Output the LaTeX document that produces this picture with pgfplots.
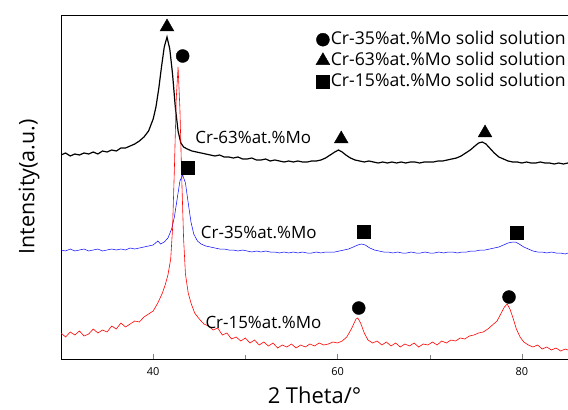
\documentclass[border=0pt]{standalone}
\usepackage{fontspec}
\setmainfont{Open Sans}
\usepackage{pgfplots}
\pgfplotsset{compat=1.18}
\usetikzlibrary{calc}

\begin{document}
\begin{tikzpicture}
\begin{axis}[
    scale only axis,
    width=507bp, height=344bp,
    xmin=30, xmax=85, ymin=0, ymax=344,
    axis x line*=box, axis y line*=left,
    axis line style={line width=0.8pt},
    xtick={40,60,80}, minor xtick={50,70},
    xtick pos=bottom, tick align=inside,
    major tick length=5bp, minor tick length=4bp,
    ytick=\empty,
    /pgf/number format/assume math mode=true,
    ticklabel style={font=\fontsize{11}{13}\selectfont},
    xticklabel style={yshift=-5bp},
    xlabel={2 Theta/°},
    ylabel={Intensity(a.u.)},
    xlabel style={font=\fontsize{22}{26}\selectfont, yshift=-4bp},
    ylabel style={font=\fontsize{21.5}{26}\selectfont, yshift=18bp},
    legend style={at={(rel axis cs:1,1)}, anchor=north east, draw=none, fill=none,
        font=\fontsize{17.7}{20}\selectfont, row sep=2bp, inner sep=0pt,
        nodes={inner sep=1bp, text height=13bp, text depth=4bp},
        xshift=-1bp, yshift=-15bp},
    legend cell align=left,
    legend image code/.code={\draw plot coordinates {(0.15cm,0cm)};},
]
% Cr-63%at.%Mo (black)
\addplot[black, line width=1.2pt, forget plot] coordinates {
(30,204) (30.5,206) (31,203) (31.5,205) (32,204) (32.5,206) (33,205) (33.5,207)
(34,205) (34.5,208) (35,207) (35.5,209) (36,208) (36.5,211) (37,211) (37.5,213)
(38,215) (38.5,218) (39,222) (39.5,228) (40,240) (40.3,252) (40.6,270) (40.9,292)
(41.2,312) (41.5,322) (41.8,310) (42.1,285) (42.4,252) (42.7,228) (43,216) (43.3,212)
(43.7,210) (44.2,208) (44.7,207) (45.2,206) (45.7,205) (46.2,204) (46.7,203) (47.2,204)
(47.7,202) (48.2,202) (48.7,201) (49.2,202) (49.7,200) (50.2,200) (50.7,201) (51.2,199)
(51.7,199) (52.2,200) (52.7,198) (53.2,199) (53.7,198) (54.2,197) (54.7,198) (55.2,197)
(55.7,198) (56.2,197) (56.7,197) (57.2,198) (57.7,198) (58.2,199) (58.7,201) (59.2,204)
(59.7,207) (60.1,209) (60.5,207) (60.9,204) (61.4,201) (61.9,199) (62.4,198) (62.9,197)
(63.4,198) (63.9,197) (64.4,196) (64.9,197) (65.4,196) (65.9,197) (66.4,196) (66.9,197)
(67.4,196) (67.9,197) (68.4,197) (68.9,196) (69.4,197) (69.9,197) (70.4,197) (70.9,198)
(71.4,198) (71.9,199) (72.4,200) (72.9,201) (73.4,203) (73.9,206) (74.4,209) (74.9,213)
(75.3,216) (75.7,217) (76.1,215) (76.5,211) (77,206) (77.5,202) (78,200) (78.5,198)
(79,197) (79.5,197) (80,196) (80.5,197) (81,196) (81.5,196) (82,197) (82.5,196)
(83,196) (83.5,195) (84,196) (84.5,195) (85,196)
};
% Cr-35%at.%Mo (blue)
\addplot[blue, line width=0.5pt, forget plot] coordinates {
(30,109) (30.5,108) (31,110) (31.5,108) (32,109) (32.5,110) (33,108) (33.5,109)
(34,110) (34.5,108) (35,109) (35.5,110) (36,109) (36.5,110) (37,109) (37.5,111)
(38,110) (38.5,111) (39,112) (39.5,113) (40,114) (40.5,118) (40.8,115) (41.2,117)
(41.6,121) (42,130) (42.3,142) (42.6,160) (42.9,178) (43.2,184) (43.5,176) (43.8,156)
(44.1,137) (44.4,125) (44.8,118) (45.2,115) (45.7,113) (46.2,112) (46.7,111) (47.2,110)
(47.7,110) (48.2,109) (48.7,109) (49.2,108) (49.7,109) (50.2,108) (50.7,107) (51.2,108)
(51.7,107) (52.2,108) (52.7,107) (53.2,107) (53.7,106) (54.2,107) (54.7,106) (55.2,107)
(55.7,106) (56.2,107) (56.7,106) (57.2,106) (57.7,107) (58.2,106) (58.7,107) (59.2,107)
(59.7,107) (60.2,108) (60.7,109) (61.2,110) (61.7,112) (62.2,114) (62.6,115) (63,114)
(63.5,111) (64,109) (64.5,108) (65,107) (65.5,107) (66,106) (66.5,107) (67,106)
(67.5,106) (68,107) (68.5,106) (69,106) (69.5,107) (70,106) (70.5,106) (71,107)
(71.5,106) (72,107) (72.5,107) (73,106) (73.5,107) (74,107) (74.5,108) (75,108)
(75.5,109) (76,109) (76.5,110) (77,111) (77.5,112) (78,114) (78.5,116) (79,117)
(79.3,117) (79.7,115) (80.2,112) (80.7,110) (81.2,108) (81.7,107) (82.2,107) (82.7,106)
(83.2,107) (83.7,106) (84.2,106) (84.7,105) (85,106)
};
% Cr-15%at.%Mo (red)
\addplot[red, line width=0.6pt, forget plot] coordinates {
(30,26) (30.5,22) (31,27) (31.5,24) (32,28) (32.5,23) (33,25) (33.5,30)
(34,26) (34.5,29) (35,27) (35.5,33) (36,30) (36.5,36) (37,32) (37.5,35)
(38,38) (38.5,37) (39,42) (39.5,45) (40,48) (40.5,56) (41,66) (41.3,74)
(41.6,84) (41.9,100) (42.1,130) (42.3,190) (42.5,260) (42.7,292) (42.9,250) (43.1,180)
(43.3,120) (43.5,85) (43.8,66) (44.1,56) (44.5,46) (45,40) (45.5,35) (46,33)
(46.5,29) (47,31) (47.5,24) (48,26) (48.5,20) (49,22) (49.5,18) (50,21)
(50.5,16) (51,19) (51.5,14) (52,17) (52.5,13) (53,16) (53.5,11) (54,14)
(54.5,12) (55,15) (55.5,11) (56,14) (56.5,12) (57,15) (57.5,13) (58,16)
(58.5,14) (59,15) (59.5,17) (60,16) (60.5,18) (61,22) (61.5,30) (62,40)
(62.2,41) (62.5,36) (62.9,26) (63.3,19) (63.8,16) (64.3,18) (64.8,14) (65.3,17)
(65.8,13) (66.3,16) (66.8,12) (67.3,15) (67.8,13) (68.3,16) (68.8,12) (69.3,15)
(69.8,14) (70.3,17) (70.8,14) (71.3,18) (71.8,16) (72.3,19) (72.8,18) (73.3,21)
(73.8,20) (74.3,23) (74.8,24) (75.3,26) (75.8,27) (76.3,30) (76.8,34) (77.3,38)
(77.7,45) (78.1,52) (78.4,55) (78.7,50) (79,42) (79.4,30) (79.8,22) (80.2,17)
(80.7,14) (81.2,12) (81.7,14) (82.2,10) (82.7,12) (83.2,9) (83.7,11) (84.2,8)
(84.7,10) (85,9)
};
% peak markers
\addplot[only marks, mark=*, mark size=6.5bp, black] coordinates {
(43.2,303) (62.3,51) (78.6,62)
};
\addlegendentry{Cr-35\%at.\%Mo solid solution}
\addplot[only marks, mark=triangle*, mark size=8bp, black] coordinates {
(41.5,332) (60.4,220) (76.0,226)
};
\addlegendentry{Cr-63\%at.\%Mo solid solution}
\addplot[only marks, mark=square*, mark size=6.5bp, black] coordinates {
(43.7,191) (62.8,127) (79.4,126)
};
\addlegendentry{Cr-15\%at.\%Mo solid solution}

\node[anchor=west, font=\fontsize{17}{20}\selectfont] at (axis cs:44.2,222) {Cr-63\%at.\%Mo};
\node[anchor=west, font=\fontsize{17}{20}\selectfont] at (axis cs:44.8,127) {Cr-35\%at.\%Mo};
\node[anchor=west, font=\fontsize{17}{20}\selectfont] at (axis cs:45.3,37) {Cr-15\%at.\%Mo};
\end{axis}
\pgfresetboundingbox
\path[use as bounding box] ($(current axis.south west)+(-61bp,-50bp)$) rectangle ($(current axis.north east)+(0,15bp)$);
\end{tikzpicture}
\end{document}
